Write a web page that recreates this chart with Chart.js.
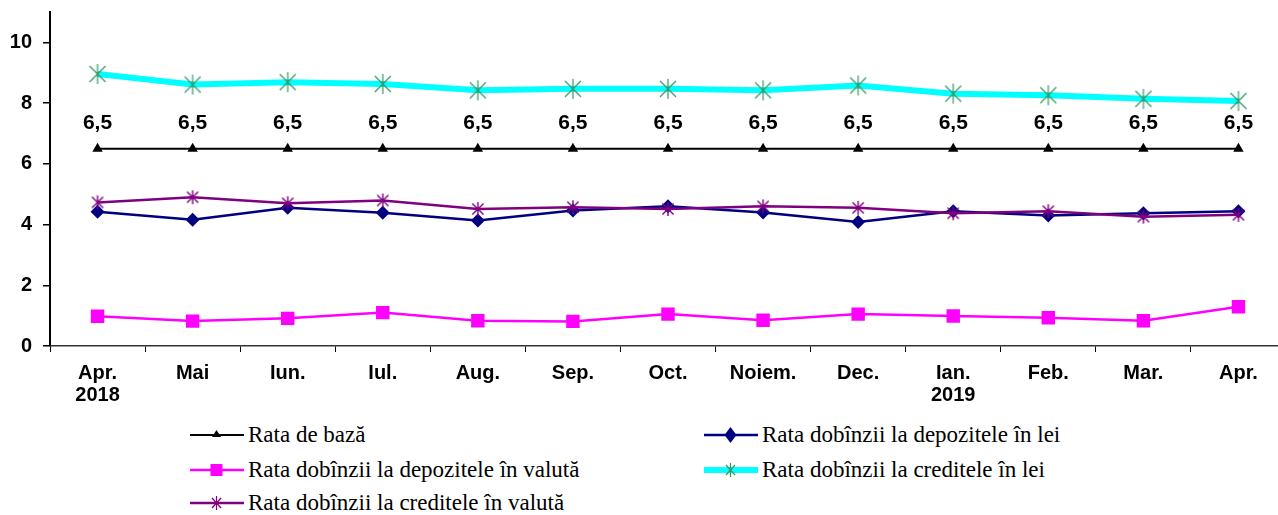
<!DOCTYPE html>
<html>
<head>
<meta charset="utf-8">
<script src="https://cdn.jsdelivr.net/npm/chart.js@4.4.1/dist/chart.umd.min.js"></script>
<style>
  html, body { margin: 0; padding: 0; background: #fff; }
  #wrap { position: relative; width: 1278px; height: 515px; overflow: hidden; }
  #box { position: absolute; left: 0; top: 0; width: 1296px; height: 415px; }
  .leg { position: absolute; display: flex; align-items: center; height: 26px;
         font-family: 'Liberation Serif', 'Times New Roman', serif; font-size: 23px; color: #000; white-space: nowrap; }
  .leg svg { margin-right: 4px; }
</style>
</head>
<body>
<div id="wrap">
  <div id="box"><canvas id="chart"></canvas></div>
  <div id="legend"></div>
</div>
<script>
// ── Date ────────────────────────────────────────────────────
const luni = [['Apr.', '2018'], 'Mai', 'Iun.', 'Iul.', 'Aug.', 'Sep.', 'Oct.', 'Noiem.', 'Dec.', ['Ian.', '2019'], 'Feb.', 'Mar.', 'Apr.'];
const yTicks = [0, 2, 4, 6, 8, 10];

const rataBaza       = [6.5, 6.5, 6.5, 6.5, 6.5, 6.5, 6.5, 6.5, 6.5, 6.5, 6.5, 6.5, 6.5];
const depoziteLei    = [4.42, 4.16, 4.55, 4.39, 4.13, 4.46, 4.60, 4.40, 4.08, 4.44, 4.30, 4.37, 4.44];
const depoziteValuta = [0.98, 0.82, 0.91, 1.10, 0.83, 0.81, 1.05, 0.85, 1.05, 0.99, 0.93, 0.83, 1.29];
const crediteLei     = [8.96, 8.61, 8.69, 8.63, 8.42, 8.47, 8.47, 8.42, 8.58, 8.31, 8.26, 8.14, 8.07];
const crediteValuta  = [4.73, 4.90, 4.70, 4.79, 4.51, 4.57, 4.51, 4.60, 4.55, 4.37, 4.44, 4.26, 4.32];

const FONT = "Arial, 'Liberation Sans', sans-serif";

// ── Marker asterisc (X + linie verticala, ca in Excel) ─────
function asterisc(culoare, marime, grosime) {
  const c = document.createElement('canvas');
  c.width = c.height = marime;
  const g = c.getContext('2d');
  const m = marime / 2, r = marime / 2 - 1;
  g.strokeStyle = culoare;
  g.lineWidth = grosime;
  g.beginPath();
  g.moveTo(m - r * 0.8, m - r * 0.8); g.lineTo(m + r * 0.8, m + r * 0.8);
  g.moveTo(m + r * 0.8, m - r * 0.8); g.lineTo(m - r * 0.8, m + r * 0.8);
  g.moveTo(m, m - r); g.lineTo(m, m + r);
  g.stroke();
  return c;
}

const serii = [
  { label: 'Rata de bază', data: rataBaza, borderColor: '#000000', backgroundColor: '#000000',
    borderWidth: 2, pointStyle: 'triangle', pointRadius: 6, leg: 'triangle' },
  { label: 'Rata dobînzii la depozitele în lei', data: depoziteLei, borderColor: '#000080', backgroundColor: '#000080',
    borderWidth: 2.5, pointStyle: 'rectRot', pointRadius: 7, leg: 'diamond' },
  { label: 'Rata dobînzii la depozitele în valută', data: depoziteValuta, borderColor: '#FF00FF', backgroundColor: '#FF00FF',
    borderWidth: 2.5, pointStyle: 'rect', pointRadius: 9.5, leg: 'square' },
  { label: 'Rata dobînzii la creditele în lei', data: crediteLei, borderColor: '#00FFFF', backgroundColor: '#00FFFF',
    borderWidth: 6, pointStyle: asterisc('#339966', 22, 1.2), pointRadius: 10, leg: 'star', starColor: '#339966' },
  { label: 'Rata dobînzii la creditele în valută', data: crediteValuta, borderColor: '#800080', backgroundColor: '#800080',
    borderWidth: 2.5, pointStyle: asterisc('#800080', 16, 1.4), pointRadius: 8, leg: 'star', starColor: '#800080' },
];

// ── Etichete "6,5" deasupra ratei de baza ──────────────────
const eticheteBaza = {
  id: 'eticheteBaza',
  afterDatasetsDraw(chart) {
    const ctx = chart.ctx;
    const meta = chart.getDatasetMeta(0);
    ctx.save();
    ctx.font = 'bold 21px ' + FONT;
    ctx.fillStyle = '#000';
    ctx.textAlign = 'center';
    ctx.textBaseline = 'middle';
    meta.data.forEach((p, i) => {
      ctx.fillText(String(rataBaza[i]).replace('.', ','), p.x, p.y - 25);
    });
    ctx.restore();
  }
};

new Chart(document.getElementById('chart'), {
  type: 'line',
  data: {
    labels: luni,
    datasets: serii.map((s, i) => ({
      label: s.label, data: s.data, borderColor: s.borderColor, backgroundColor: s.backgroundColor,
      borderWidth: s.borderWidth, pointStyle: s.pointStyle, pointRadius: s.pointRadius,
      pointBorderWidth: 0, tension: 0, fill: false, order: serii.length - i,
    }))
  },
  options: {
    responsive: true, maintainAspectRatio: false, animation: false,
    layout: { padding: { top: 12, right: 0, left: 0, bottom: 0 } },
    plugins: { legend: { display: false }, tooltip: { enabled: false } },
    scales: {
      x: {
        offset: true,
        grid: { offset: true, drawOnChartArea: false, tickLength: 6, color: '#000', lineWidth: 1 },
        border: { color: '#333', width: 1.5 },
        ticks: { color: '#000', font: { size: 20, weight: 'bold', family: FONT, lineHeight: 1.12 },
                 padding: 10, maxRotation: 0, autoSkip: false },
        afterFit: s => { s.height = 69; }
      },
      y: {
        min: 0, max: 11,
        afterBuildTicks: s => { s.ticks = yTicks.map(v => ({ value: v })); },
        grid: { drawOnChartArea: false, tickLength: 7, color: '#000', lineWidth: 1.5 },
        border: { color: '#000', width: 2 },
        ticks: { color: '#000', font: { size: 20, weight: 'bold', family: FONT }, padding: 11 },
        afterFit: s => { s.width = 50; s.paddingTop = 0; s.paddingBottom = 0; }
      }
    }
  },
  plugins: [eticheteBaza]
});

// ── Legenda ─────────────────────────────────────────────────
const pozLegenda = [[190, 422], [704, 422], [190, 457], [704, 457], [190, 490]];

function simbol(s) {
  const lw = s.borderWidth;
  let m = '';
  if (s.leg === 'triangle') m = `<polygon points="26.5,8 31,15 22,15" fill="${s.backgroundColor}"/>`;
  if (s.leg === 'diamond') m = `<polygon points="26.5,5 32.5,13 26.5,21 20.5,13" fill="${s.backgroundColor}"/>`;
  if (s.leg === 'square') m = `<rect x="20.5" y="7" width="12" height="12" fill="${s.backgroundColor}"/>`;
  if (s.leg === 'star') m = `<g stroke="${s.starColor}" stroke-width="1.2"><line x1="22" y1="8" x2="31" y2="18"/><line x1="31" y1="8" x2="22" y2="18"/><line x1="26.5" y1="6" x2="26.5" y2="20"/></g>`;
  return `<svg width="54" height="26"><line x1="0" y1="13" x2="54" y2="13" stroke="${s.borderColor}" stroke-width="${lw}" stroke-linecap="round"/>${m}</svg>`;
}

document.getElementById('legend').innerHTML = serii.map((s, i) =>
  `<div class="leg" style="left:${pozLegenda[i][0]}px;top:${pozLegenda[i][1]}px">${simbol(s)}${s.label}</div>`
).join('');
</script>
</body>
</html>
